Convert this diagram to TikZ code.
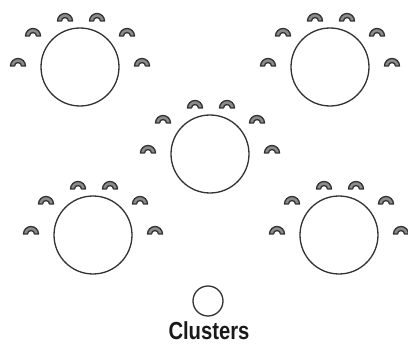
\documentclass[tikz,border=0pt]{standalone}
\usepackage{fontspec}
\setmainfont{Liberation Sans}
\begin{document}
\begin{tikzpicture}[x=1pt,y=-1pt,
  tablecircle/.style={draw=black!80,line width=1.3pt,fill=white},
  chair/.pic={
    \draw[draw=black!80,fill=black!45,line width=1.3pt,line join=round]
      (-7.5,3) arc[start angle=180,end angle=360,x radius=7.5,y radius=7.5]
      -- (3.5,3) arc[start angle=360,end angle=180,x radius=3.5,y radius=3.5] -- cycle;
  },
  label/.style={font=\bfseries\fontsize{22}{22}\selectfont,text=black!90,inner sep=0pt,xscale=0.92,yscale=1.12}
]
\useasboundingbox (0,0) rectangle (408,345);
\foreach \n/\cx/\cy in {tl/80/67, tr/330/67, c/210/154, bl/93/235, br/339/235}{
  \node[tablecircle,circle,minimum size=78pt,inner sep=0pt] (\n) at (\cx,\cy) {};
  \foreach \dx/\dy in {-15/-49, 17/-49, -47/-34, 47/-34, -62/-4, 62/-4}{
    \pic at (\cx+\dx,\cy+\dy) {chair};
  }
}
\node[tablecircle,circle,minimum size=30pt,inner sep=0pt] (small) at (208,301) {};
\node[label,anchor=base] (lbl) at (209,340) {Clusters};
\end{tikzpicture}
\end{document}
